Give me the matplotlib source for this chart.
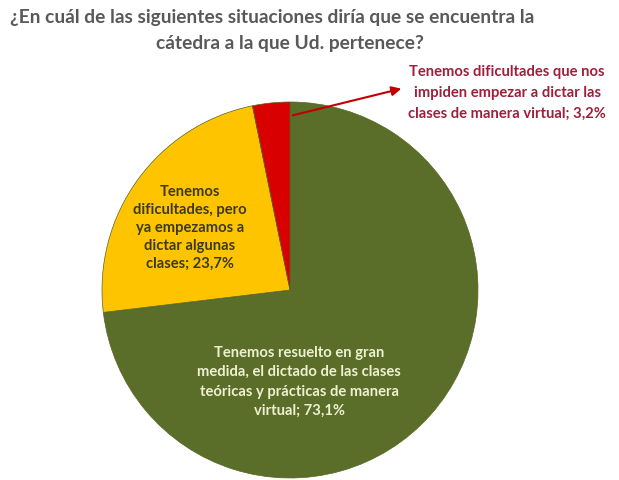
import matplotlib.pyplot as plt

plt.rcParams['font.family'] = ['Lato', 'DejaVu Sans']

categorias = [
    "Tenemos resuelto en gran\nmedida, el dictado de las clases\nteóricas y prácticas de manera\nvirtual; 73,1%",
    "Tenemos\ndificultades, pero\nya empezamos a\ndictar algunas\nclases; 23,7%",
    "Tenemos dificultades que nos\nimpiden empezar a dictar las\nclases de manera virtual; 3,2%",
]
valores = [73.1, 23.7, 3.2]
colores = ["#5a6e2a", "#ffc400", "#d80000"]
titulo = ["¿En cuál de las siguientes situaciones diría que se encuentra la",
          "cátedra a la que Ud. pertenece?"]

W, H = 619, 480
fig = plt.figure(figsize=(W / 100, H / 100), dpi=100)

# pie centre and radius in pixels
cx, cy, r = 290, 290, 188
ax = fig.add_axes([(cx - r) / W, (H - cy - r) / H, 2 * r / W, 2 * r / H])
ax.pie(valores, colors=colores, startangle=90, counterclock=False,
       wedgeprops=dict(edgecolor="#55661f", linewidth=0.5))
ax.set_xlim(-1, 1)
ax.set_ylim(-1, 1)
ax.set_aspect("equal")
ax.axis("off")

def px(x, y):
    return x / W, 1 - y / H

fig.text(*px(272, 18), titulo[0], ha="center", va="center", fontsize=13.8,
         fontweight="bold", color="#595959")
fig.text(*px(290, 43), titulo[1], ha="center", va="center", fontsize=13.8,
         fontweight="bold", color="#595959")

fig.text(*px(299, 382), categorias[0], ha="center", va="center", fontsize=10.6,
         fontweight="bold", color="#eef0d0", linespacing=1.5)
fig.text(*px(190, 228), categorias[1], ha="center", va="center", fontsize=10.6,
         fontweight="bold", color="#3c3a1c", linespacing=1.35)
fig.text(*px(507, 93), categorias[2], ha="center", va="center", fontsize=10.6,
         fontweight="bold", color="#9e1f3c", linespacing=1.6)

# arrow from the small slice to its label
fig.add_artist(plt.matplotlib.patches.FancyArrowPatch(
    px(290, 116), px(404, 88), transform=fig.transFigure,
    arrowstyle="-|>", mutation_scale=14, color="#c00000", linewidth=1.5))

fig.savefig("out.png", dpi=100, facecolor="white")
